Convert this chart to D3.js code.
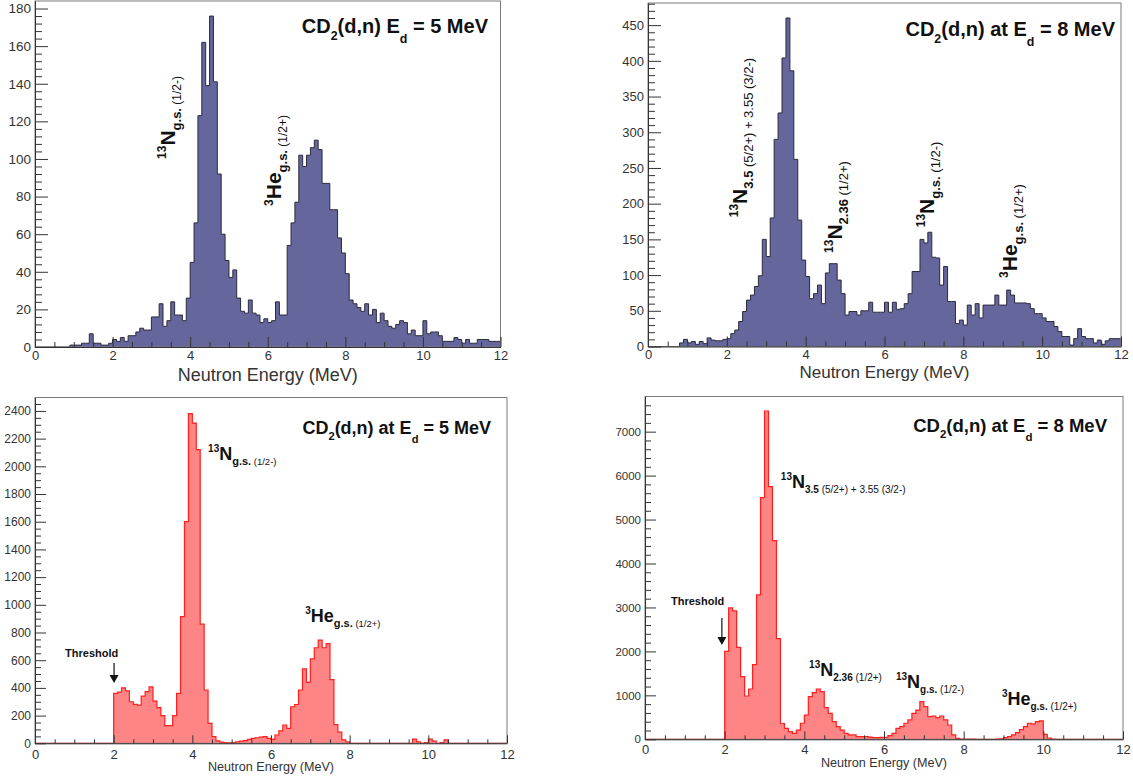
<!DOCTYPE html>
<html>
<head>
<meta charset="utf-8">
<script src="https://cdn.jsdelivr.net/npm/d3@7"></script>
<style>
  body { margin: 0; background: #fff; }
  svg { display: block; }
</style>
</head>
<body>
<div id="chart"></div>
<script>
// counts per 0.1 MeV bin, 0.0 - 12.0 MeV (120 bins)
const binWidth = 0.1;

// measured, Ed = 5 MeV
const measured5 = [
  0, 0, 0, 0, 0, 0, 0, 0, 0, 1,
  1, 1, 2, 2, 7, 2, 2, 1, 1, 2,
  4, 3, 5, 3, 6, 6, 8, 10, 9, 9,
  16, 16, 23, 11, 14, 24, 17, 17, 14, 26,
  45, 66, 123, 162, 139, 176, 141, 92, 60, 46,
  37, 41, 26, 19, 18, 25, 18, 17, 13, 15,
  13, 14, 24, 17, 17, 54, 66, 77, 102, 96,
  102, 106, 110, 105, 87, 87, 73, 73, 58, 50,
  39, 25, 23, 21, 19, 23, 17, 20, 13, 18,
  14, 11, 10, 12, 14, 13, 7, 9, 6, 6,
  14, 7, 8, 8, 6, 3, 3, 3, 5, 4,
  2, 4, 2, 2, 4, 4, 4, 3, 3, 3
];

// measured, Ed = 8 MeV
const measured8 = [
  0, 0, 0, 0, 0, 0, 0, 0, 5, 10,
  5, 7, 3, 7, 4, 12, 9, 8, 8, 10,
  11, 18, 23, 35, 49, 65, 72, 84, 99, 150,
  126, 180, 290, 327, 404, 460, 386, 262, 177, 121,
  98, 67, 74, 86, 60, 103, 116, 116, 93, 74,
  44, 49, 49, 44, 50, 50, 62, 48, 48, 48,
  62, 48, 62, 52, 53, 60, 74, 105, 105, 150,
  145, 160, 125, 124, 86, 112, 63, 63, 32, 37,
  30, 58, 44, 60, 40, 58, 58, 58, 72, 58,
  58, 79, 72, 61, 61, 61, 60, 53, 46, 46,
  40, 35, 35, 28, 21, 14, 14, 2, 11, 25,
  14, 11, 11, 5, 9, 3, 8, 11, 11, 11
];

// simulated, Ed = 5 MeV
const simulated5 = [
  0, 0, 0, 0, 0, 0, 0, 0, 0, 0,
  0, 0, 0, 0, 0, 0, 0, 0, 0, 0,
  360, 370, 400, 378, 300, 281, 275, 340, 373, 407,
  305, 257, 200, 128, 128, 200, 360, 915, 1600, 2380,
  2312, 2120, 860, 385, 144, 48, 17, 8, 5, 3,
  5, 10, 15, 20, 28, 35, 40, 45, 48, 36,
  28, 60, 90, 132, 108, 264, 280, 385, 537, 440,
  610, 690, 745, 690, 720, 460, 135, 80, 25, 10,
  0, 0, 0, 0, 0, 0, 0, 0, 0, 0,
  0, 0, 0, 0, 0, 0, 30, 10, 0, 5,
  30, 15, 0, 5, 25, 0, 0, 0, 0, 0,
  0, 0, 0, 0, 0, 0, 0, 0, 0, 0
];

// simulated, Ed = 8 MeV
const simulated8 = [
  0, 0, 0, 0, 0, 0, 0, 0, 0, 0,
  0, 0, 0, 0, 0, 0, 0, 0, 0, 0,
  2000, 2990, 2920, 2090, 1425, 985, 1145, 1700, 3285, 5500,
  7470, 5750, 4520, 2290, 360, 250, 175, 135, 210, 365,
  550, 970, 1060, 1145, 1085, 720, 590, 400, 290, 210,
  135, 100, 100, 60, 60, 60, 50, 37, 37, 45,
  45, 83, 135, 250, 290, 365, 440, 590, 665, 855,
  745, 515, 530, 495, 530, 440, 325, 100, 22, 5,
  5, 5, 3, 0, 0, 0, 0, 0, 5, 10,
  40, 60, 100, 150, 220, 290, 365, 350, 400, 420,
  110, 25, 5, 0, 0, 0, 0, 0, 0, 0,
  0, 0, 0, 0, 0, 0, 0, 0, 0, 0
];

const xMajorTicks = [0, 2, 4, 6, 8, 10, 12];
const yTicks5 = [0, 20, 40, 60, 80, 100, 120, 140, 160, 180];
const yTicks8 = [0, 50, 100, 150, 200, 250, 300, 350, 400, 450];
const yTicksSim5 = [0, 200, 400, 600, 800, 1000, 1200, 1400, 1600, 1800, 2000, 2200, 2400];
const yTicksSim8 = [0, 1000, 2000, 3000, 4000, 5000, 6000, 7000];

const titles = ["5 MeV", "8 MeV"];

// peak labels: [text, kind] parts; e/v = anchor in data coordinates
const labels5 = [
  { e: 3.61, v: 100, parts: [["13", "sup"], ["N", "main"], ["g.s.", "sub"], [" (1/2-)", "small"]] },
  { e: 6.35, v: 75, parts: [["3", "sup"], ["He", "main"], ["g.s.", "sub"], [" (1/2+)", "small"]] }
];
const labels8 = [
  { e: 2.51, v: 181, parts: [["13", "sup"], ["N", "main"], ["3.5", "sub"], [" (5/2+) + 3.55 (3/2-)", "small"]] },
  { e: 4.92, v: 131, parts: [["13", "sup"], ["N", "main"], ["2.36", "sub"], [" (1/2+)", "small"]] },
  { e: 7.26, v: 167, parts: [["13", "sup"], ["N", "main"], ["g.s.", "sub"], [" (1/2-)", "small"]] },
  { e: 9.36, v: 96, parts: [["3", "sup"], ["He", "main"], ["g.s.", "sub"], [" (1/2+)", "small"]] }
];
const labelsSim5 = [
  { e: 4.40, v: 2047, parts: [["13", "sup"], ["N", "main"], ["g.s.", "sub"], [" (1/2-)", "small"]] },
  { e: 6.87, v: 876, parts: [["3", "sup"], ["He", "main"], ["g.s.", "sub"], [" (1/2+)", "small"]] }
];
const labelsSim8 = [
  { e: 3.41, v: 5719, parts: [["13", "sup"], ["N", "main"], ["3.5", "sub"], [" (5/2+) + 3.55 (3/2-)", "small"]] },
  { e: 4.12, v: 1441, parts: [["13", "sup"], ["N", "main"], ["2.36", "sub"], [" (1/2+)", "small"]] },
  { e: 6.30, v: 1168, parts: [["13", "sup"], ["N", "main"], ["g.s.", "sub"], [" (1/2-)", "small"]] },
  { e: 8.96, v: 781, parts: [["3", "sup"], ["He", "main"], ["g.s.", "sub"], [" (1/2+)", "small"]] }
];

// threshold marker: text position and arrow (energy, top value, tip value)
const thresholdSim5 = { textE: 1.44, textV: 624, arrowE: 2.01, from: 580, to: 436 };
const thresholdSim8 = { textE: 1.32, textV: 3061, arrowE: 1.93, from: 2760, to: 2146 };

(() => {
  const width = 1133;
  const height = 782;
  const font = '"Liberation Sans", Arial, Helvetica, sans-serif';

  const svg = d3
    .select("#chart")
    .append("svg")
    .attr("width", width)
    .attr("height", height)
    .style("font-family", font);

  const panels = [
    {
      counts: measured5, yMax: 184, yTicks: yTicks5, yMinorStep: 4,
      left: 35, right: 500.5, top: 1, bottom: 347,
      fill: "#64669c", stroke: "#2b2b3d", strokeWidth: 1,
      yFont: 13.5, xFont: 13, yMajor: 13, yMinor: 7, xMajor: 10, xMinor: 5, xPad: 4,
      xTitle: { size: 18, dy: 34 },
      title: { words: "", energy: titles[0], size: 20, right: 488, base: 33 },
      labels: labels5, rotate: true,
      labelSizes: { sup: 12, main: 21, sub: 13, small: 12 }
    },
    {
      counts: measured8, yMax: 481, yTicks: yTicks8, yMinorStep: 10,
      left: 648, right: 1121, top: 3, bottom: 346.5,
      fill: "#64669c", stroke: "#2b2b3d", strokeWidth: 1,
      yFont: 13, xFont: 13, yMajor: 13, yMinor: 7, xMajor: 10, xMinor: 5, xPad: 3,
      xTitle: { size: 17, dy: 31 },
      title: { words: " at", energy: titles[1], size: 20, right: 1115, base: 36 },
      labels: labels8, rotate: true,
      labelSizes: { sup: 12, main: 21, sub: 13, small: 13 }
    },
    {
      counts: simulated5, yMax: 2497, yTicks: yTicksSim5, yMinorStep: 50,
      left: 35, right: 507, top: 397.5, bottom: 743.3,
      fill: "#fd8585", stroke: "#ff1f1f", strokeWidth: 1.2,
      yFont: 12, xFont: 13, yMajor: 11, yMinor: 6, xMajor: 8, xMinor: 4, xPad: 6,
      xTitle: { size: 12.6, dy: 28 },
      title: { words: " at", energy: titles[0], size: 18, right: 491, base: 434 },
      labels: labelsSim5, rotate: false,
      labelSizes: { sup: 10, main: 18, sub: 11, small: 9.5 },
      threshold: thresholdSim5
    },
    {
      counts: simulated8, yMax: 7800, yTicks: yTicksSim8, yMinorStep: 200,
      left: 645, right: 1123, top: 396.5, bottom: 739.3,
      fill: "#fd8585", stroke: "#ff1f1f", strokeWidth: 1.2,
      yFont: 11.5, xFont: 13, yMajor: 11, yMinor: 6, xMajor: 8, xMinor: 4, xPad: 5,
      xTitle: { size: 12.6, dy: 28 },
      title: { words: " at", energy: titles[1], size: 18.5, right: 1107, base: 432 },
      labels: labelsSim8, rotate: false,
      labelSizes: { sup: 10, main: 18, sub: 10, small: 10 },
      threshold: thresholdSim8
    }
  ];

  panels.forEach((p) => drawPanel(p));

  function drawPanel(p) {
    const g = svg.append("g");

    const x = d3.scaleLinear().domain([0, 12]).range([p.left, p.right]);
    const y = d3.scaleLinear().domain([0, p.yMax]).range([p.bottom, p.top]);

    const bins = p.counts.map((v, i) => ({ e: i * binWidth, v }));
    bins.push({ e: 12, v: p.counts[p.counts.length - 1] });

    const area = d3
      .area()
      .curve(d3.curveStepAfter)
      .x((d) => x(d.e))
      .y0(y(0))
      .y1((d) => y(d.v));

    const line = d3
      .line()
      .curve(d3.curveStepAfter)
      .x((d) => x(d.e))
      .y((d) => y(d.v));

    g.append("path").datum(bins).attr("d", area).attr("fill", p.fill);
    g.append("path")
      .datum(bins)
      .attr("d", line)
      .attr("fill", "none")
      .attr("stroke", p.stroke)
      .attr("stroke-width", p.strokeWidth);

    // frame
    g.append("rect")
      .attr("x", p.left)
      .attr("y", p.top)
      .attr("width", p.right - p.left)
      .attr("height", p.bottom - p.top)
      .attr("fill", "none")
      .attr("stroke", "#7a7a7a")
      .attr("stroke-width", 1);

    // x axis
    const xMinorTicks = d3.range(0, 12.01, 0.5).filter((t) => t % 2 !== 0);
    g.append("g")
      .attr("transform", `translate(0,${p.bottom})`)
      .call(d3.axisBottom(x).tickValues(xMinorTicks).tickSizeInner(-p.xMinor).tickSizeOuter(0).tickFormat(""))
      .call((a) => a.select(".domain").remove());
    const xAxis = g
      .append("g")
      .attr("transform", `translate(0,${p.bottom})`)
      .call(
        d3.axisBottom(x)
          .tickValues(xMajorTicks)
          .tickSizeInner(-p.xMajor)
          .tickSizeOuter(0)
          .tickPadding(p.xPad)
          .tickFormat(d3.format("d"))
      );
    xAxis.selectAll("text").attr("font-size", p.xFont).attr("fill", "#333").attr("font-family", font);

    // y axis
    const yMinorTicks = d3
      .range(0, p.yMax, p.yMinorStep)
      .filter((t) => !p.yTicks.includes(t));
    g.append("g")
      .attr("transform", `translate(${p.left},0)`)
      .call(d3.axisLeft(y).tickValues(yMinorTicks).tickSizeInner(-p.yMinor).tickSizeOuter(0).tickFormat(""))
      .call((a) => a.select(".domain").remove());
    const yAxis = g
      .append("g")
      .attr("transform", `translate(${p.left},0)`)
      .call(
        d3.axisLeft(y)
          .tickValues(p.yTicks)
          .tickSizeInner(-p.yMajor)
          .tickSizeOuter(0)
          .tickPadding(4)
          .tickFormat(d3.format("d"))
      );
    yAxis.selectAll("text").attr("font-size", p.yFont).attr("fill", "#333").attr("font-family", font);

    g.selectAll(".tick line").attr("stroke", "#333");
    g.selectAll(".domain").attr("stroke", "#333");

    // x title
    g.append("text")
      .attr("x", (p.left + p.right) / 2)
      .attr("y", p.bottom + p.xTitle.dy)
      .attr("text-anchor", "middle")
      .attr("font-size", p.xTitle.size)
      .attr("fill", "#333")
      .text("Neutron Energy (MeV)");

    // title CD2(d,n) [at] Ed = N MeV
    const t = g
      .append("text")
      .attr("x", p.title.right)
      .attr("y", p.title.base)
      .attr("text-anchor", "end")
      .attr("font-size", p.title.size)
      .attr("font-weight", "bold")
      .attr("fill", "#111")
      .style("white-space", "pre");
    const sub = p.title.size * 0.62;
    t.append("tspan").text("CD");
    t.append("tspan").attr("font-size", sub).attr("dy", p.title.size * 0.35).text("2");
    t.append("tspan").attr("dy", -p.title.size * 0.35).text(`(d,n)${p.title.words} E`);
    t.append("tspan").attr("font-size", sub).attr("dy", p.title.size * 0.5).text("d");
    t.append("tspan").attr("dy", -p.title.size * 0.5).text(` = ${p.title.energy}`);

    // peak labels
    const s = p.labelSizes;
    const shift = { sup: -s.main * 0.42, main: 0, sub: s.main * 0.28, small: s.main * 0.28 };
    const weight = { sup: "bold", main: "bold", sub: "bold", small: "normal" };
    p.labels.forEach((lab) => {
      const px = x(lab.e);
      const py = y(lab.v);
      const txt = g
        .append("text")
        .attr("transform", p.rotate ? `translate(${px},${py}) rotate(-90)` : `translate(${px},${py})`)
        .attr("fill", "#111")
        .style("white-space", "pre");
      let cur = 0;
      lab.parts.forEach(([str, kind]) => {
        txt.append("tspan")
          .attr("dy", shift[kind] - cur)
          .attr("font-size", s[kind])
          .attr("font-weight", weight[kind])
          .text(str);
        cur = shift[kind];
      });
    });

    // threshold arrow
    if (p.threshold) {
      const th = p.threshold;
      g.append("text")
        .attr("x", x(th.textE))
        .attr("y", y(th.textV))
        .attr("text-anchor", "middle")
        .attr("font-size", 11)
        .attr("font-weight", "bold")
        .attr("fill", "#111")
        .text("Threshold");
      const ax = x(th.arrowE);
      const yTop = y(th.from);
      const yTip = y(th.to);
      g.append("line")
        .attr("x1", ax).attr("x2", ax)
        .attr("y1", yTop).attr("y2", yTip - 6)
        .attr("stroke", "#111")
        .attr("stroke-width", 1.2);
      g.append("path")
        .attr("d", `M${ax - 4.5},${yTip - 8}L${ax + 4.5},${yTip - 8}L${ax},${yTip}Z`)
        .attr("fill", "#111");
    }
  }
})();
</script>
</body>
</html>
